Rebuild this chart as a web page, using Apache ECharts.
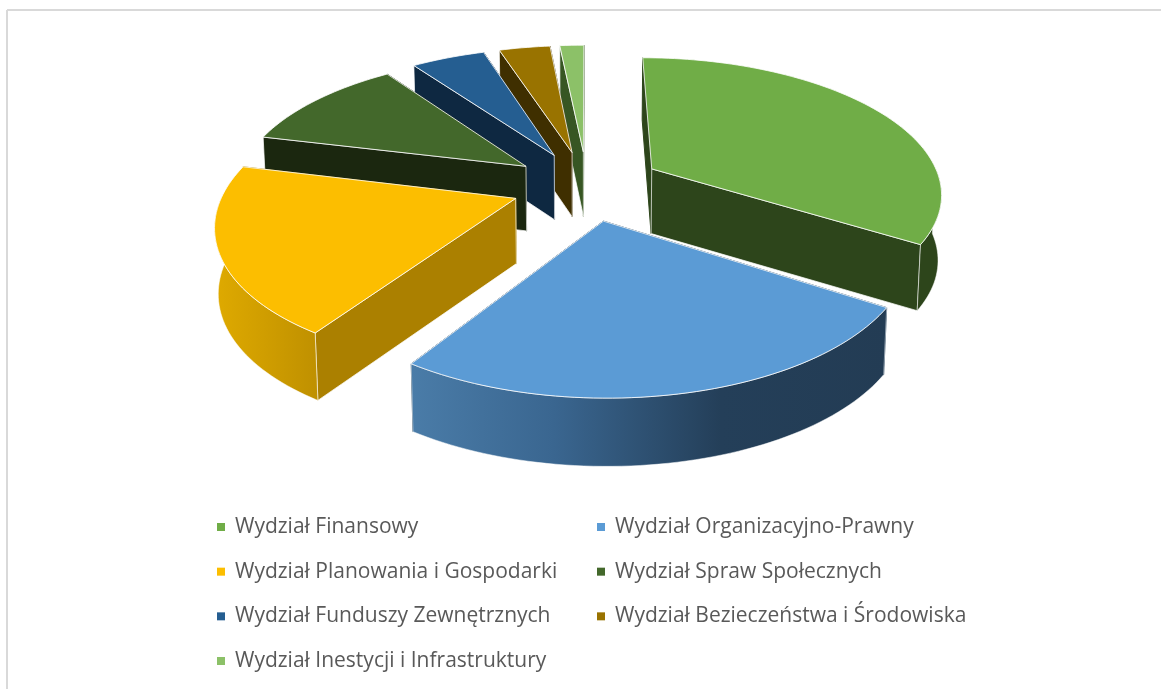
<!DOCTYPE html>
<html>
<head>
<meta charset="utf-8">
<style>
  html, body { margin: 0; padding: 0; background: #fff; }
  #main { width: 1161px; height: 689px; }
</style>
<script src="https://cdn.jsdelivr.net/npm/echarts@6/dist/echarts.min.js"></script>
</head>
<body>
<div id="main"></div>
<script>
// dane
var categories = [
  'Wydział Finansowy',
  'Wydział Organizacyjno-Prawny',
  'Wydział Planowania i Gospodarki',
  'Wydział Spraw Społecznych',
  'Wydział Funduszy Zewnętrznych',
  'Wydział Bezieczeństwa i Środowiska',
  'Wydział Inestycji i Infrastruktury'
];
var values = [34, 25.3, 19.5, 11.3, 4.9, 3.4, 1.6];

// kolory
var topColors = ['#70AD47', '#5B9BD5', '#FCBE00', '#43682B', '#255E91', '#997300', '#8CC168'];
var cutColors = ['#2D451B', '#21405A', '#AB8000', '#1B270F', '#0E2841', '#3F2F00', '#375623'];
var wallStops = [
  [[0, '#2D451B'], [1, '#2D451B']],
  [[0, '#4A7CA8'], [0.3, '#3A6690'], [0.65, '#243F59'], [1, '#233C54']],
  [[0, '#DFAA00'], [1, '#BF9000']],
  [[0, '#1B270F'], [1, '#1B270F']],
  [[0, '#0E2841'], [1, '#0E2841']],
  [[0, '#3F2F00'], [1, '#3F2F00']],
  [[0, '#375623'], [1, '#375623']]
];
var drawOrder = [6, 5, 4, 3, 0, 2, 1]; // od tylu do przodu

// rzut perspektywiczny kola
var centerX = 587, centerY = 185.4;
var radiusX = 290, radiusY = 134.5, persp = 0.165;
var explode = 0.26, depth = 65, startAngle = 0;

var total = values.reduce(function (a, b) { return a + b; }, 0);

function sliceRange(idx) {
  var sum = 0;
  for (var i = 0; i < idx; i++) sum += values[i];
  return [startAngle + sum / total * 360, startAngle + (sum + values[idx]) / total * 360];
}

function project(X, Y) {
  var s = 1 / (1 - persp * Y);
  return [centerX + radiusX * X * s, centerY + radiusY * Y * s];
}

// dolna krawedz bryly
function lowerPoint(X, Y) {
  var p = project(X, Y);
  return [centerX + (p[0] - centerX) * 0.99, p[1] + depth * (1 + 0.04 * Y)];
}

function rimWorld(off, deg) {
  var r = deg * Math.PI / 180;
  return [off[0] + Math.sin(r), off[1] - Math.cos(r)];
}

function renderSlice(idx) {
  return function () {
    var range = sliceRange(idx);
    var mid = (range[0] + range[1]) / 2 * Math.PI / 180;
    var off = [explode * Math.sin(mid), -explode * Math.cos(mid)];
    var apexTop = project(off[0], off[1]);
    var apexLow = lowerPoint(off[0], off[1]);
    var children = [];

    function arc(a, b) {
      var pts = [];
      var n = Math.max(2, Math.ceil(Math.abs(b - a) / 1.5));
      for (var i = 0; i <= n; i++) pts.push(rimWorld(off, a + (b - a) * i / n));
      return pts;
    }

    // sciany przekroju, najpierw ta odwrocona od widza
    var cuts = [
      { deg: range[0], facing: -Math.sin(range[0] * Math.PI / 180) },
      { deg: range[1], facing: Math.sin(range[1] * Math.PI / 180) }
    ].sort(function (p, q) { return p.facing - q.facing; });
    cuts.forEach(function (cut) {
      var w = rimWorld(off, cut.deg);
      children.push({
        type: 'polygon',
        shape: { points: [apexTop, project(w[0], w[1]), lowerPoint(w[0], w[1]), apexLow] },
        style: {
          fill: cutColors[idx],
          stroke: cut.facing > 0 ? 'rgba(255,255,255,0.7)' : cutColors[idx],
          lineWidth: 1
        }
      });
    });

    // sciana zewnetrzna, tylko przod
    var a = Math.max(range[0], 90), b = Math.min(range[1], 270);
    if (b > a) {
      var pts = arc(a, b);
      var upper = pts.map(function (w) { return project(w[0], w[1]); });
      var bottom = pts.map(function (w) { return lowerPoint(w[0], w[1]); }).reverse();
      children.push({
        type: 'polygon',
        shape: { points: upper.concat(bottom) },
        style: {
          fill: new echarts.graphic.LinearGradient(0, 0, 1, 0, wallStops[idx].map(function (s) {
            return { offset: s[0], color: s[1] };
          })),
          stroke: 'rgba(255,255,255,0.5)',
          lineWidth: 1
        }
      });
    }

    // gora
    var rimTop = arc(range[0], range[1]).map(function (w) { return project(w[0], w[1]); });
    children.push({
      type: 'polygon',
      shape: { points: [apexTop].concat(rimTop) },
      style: { fill: topColors[idx], stroke: 'rgba(255,255,255,0.8)', lineWidth: 1, lineJoin: 'round' }
    });
    return { type: 'group', children: children };
  };
}

var myChart = echarts.init(document.getElementById('main'));

var legendBase = {
  orient: 'vertical',
  icon: 'rect',
  itemWidth: 8,
  itemHeight: 8,
  itemGap: 20.67,
  selectedMode: false,
  textStyle: {
    color: '#595959',
    fontFamily: '"Open Sans"',
    fontSize: 21,
    lineHeight: 24,
    padding: [0, 0, 0, 5]
  }
};

var option = {
  backgroundColor: '#fff',
  animation: false,
  legend: [
    Object.assign({}, legendBase, {
      left: 212, top: 510,
      data: [categories[0], categories[2], categories[4], categories[6]]
    }),
    Object.assign({}, legendBase, {
      left: 592, top: 510,
      data: [categories[1], categories[3], categories[5]]
    })
  ],
  graphic: [
    { type: 'line', silent: true, shape: { x1: 7, y1: 10, x2: 1161, y2: 10 }, style: { stroke: '#d9d9d9', lineWidth: 2 } },
    { type: 'line', silent: true, shape: { x1: 7, y1: 10, x2: 7, y2: 689 }, style: { stroke: '#d9d9d9', lineWidth: 2 } }
  ],
  series: categories.map(function (name, i) {
    return {
      type: 'custom',
      name: name,
      coordinateSystem: 'none',
      z: 2 + drawOrder.indexOf(i),
      itemStyle: { color: topColors[i] },
      renderItem: renderSlice(i),
      data: [values[i]]
    };
  })
};

myChart.setOption(option);
</script>
</body>
</html>
